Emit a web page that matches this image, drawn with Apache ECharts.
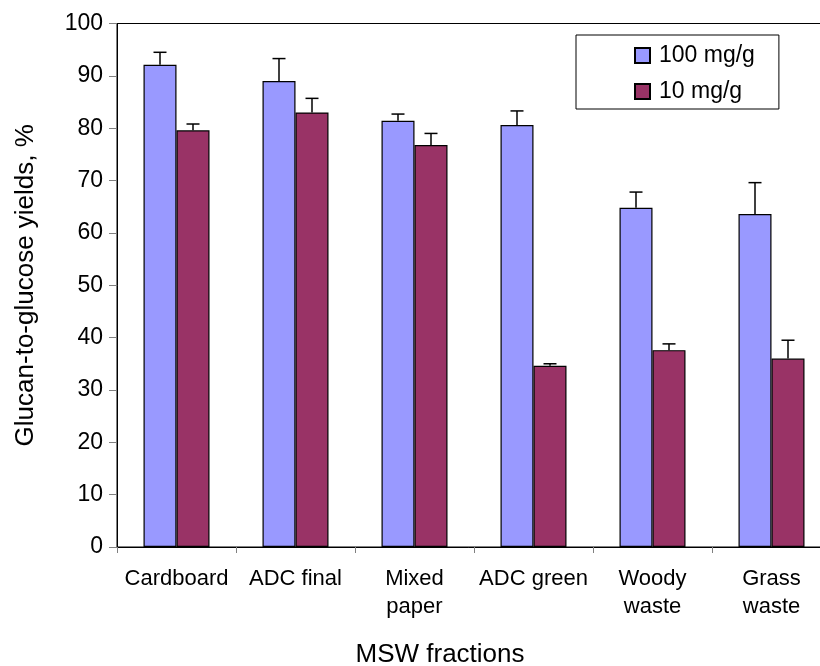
<!DOCTYPE html>
<html>
<head>
<meta charset="utf-8">
<script src="https://cdn.jsdelivr.net/npm/echarts@6/dist/echarts.min.js"></script>
<style>
  html, body { margin: 0; padding: 0; background: #fff; }
  #yieldChart { width: 820px; height: 666px; }
</style>
</head>
<body>
<div id="yieldChart"></div>
<script>
var fractions = ['Cardboard', 'ADC final', 'Mixed\npaper', 'ADC green', 'Woody\nwaste', 'Grass\nwaste'];
var yieldTicks = [0, 10, 20, 30, 40, 50, 60, 70, 80, 90, 100];
var dose100 = [92.1, 89.0, 81.4, 80.6, 64.8, 63.6];
var dose100Err = [94.5, 93.3, 82.7, 83.3, 67.8, 69.6];
var dose10 = [79.6, 83.0, 76.8, 34.6, 37.6, 36.0];
var dose10Err = [80.8, 85.7, 79.0, 35.0, 38.8, 39.5];

var barW = 33;

// error bar (only upward, with a cap)
var errorBars = function (tops, errs, shift) {
    var data = tops.map(function (v, i) { return [i, v, errs[i]]; });
    return {
        type: 'custom',
        z: 10,
        silent: true,
        data: data,
        encode: { x: 0, y: [1, 2] },
        renderItem: function (params, api) {
            var lo = api.coord([api.value(0), api.value(1)]);
            var hi = api.coord([api.value(0), api.value(2)]);
            var x = lo[0] + shift;
            var style = { stroke: '#000', lineWidth: 1.5 };
            return {
                type: 'group',
                children: [
                    { type: 'line', shape: { x1: x, y1: lo[1], x2: x, y2: hi[1] }, style: style },
                    { type: 'line', shape: { x1: x - 6.5, y1: hi[1], x2: x + 6.5, y2: hi[1] }, style: style }
                ]
            };
        }
    };
};

var yieldChart = echarts.init(document.getElementById('yieldChart'));
var option = {
    animation: false,
    textStyle: { fontFamily: 'Liberation Sans, Arial, sans-serif' },
    grid: {
        show: true,
        left: 117,
        top: 23.5,
        right: -11,
        bottom: 119,
        outerBoundsMode: 'none',
        containLabel: false,
        borderColor: '#000',
        borderWidth: 1
    },
    legend: {
        data: ['100 mg/g', '10 mg/g'],
        orient: 'vertical',
        left: 576,
        top: 35,
        backgroundColor: '#fff',
        borderColor: '#000',
        borderWidth: 1,
        padding: [9, 24, 6, 58],
        itemGap: 13,
        itemWidth: 15,
        itemHeight: 15,
        icon: 'rect',
        textStyle: { fontSize: 23, color: '#000', padding: [0, 0, 0, 4] }
    },
    xAxis: {
        type: 'category',
        data: fractions,
        name: 'MSW fractions',
        nameLocation: 'middle',
        nameGap: 95,
        nameTextStyle: { fontSize: 26, color: '#000', padding: [0, 68, 0, 0] },
        axisLine: { lineStyle: { color: '#000', width: 1 } },
        axisTick: { show: true, length: 6, lineStyle: { color: '#808080' } },
        axisLabel: { fontSize: 22, color: '#000', margin: 18, lineHeight: 28, interval: 0 }
    },
    yAxis: {
        type: 'value',
        min: yieldTicks[0],
        max: yieldTicks[yieldTicks.length - 1],
        interval: 10,
        name: 'Glucan-to-glucose yields, %',
        nameLocation: 'middle',
        nameGap: 78,
        nameTextStyle: { fontSize: 26, color: '#000' },
        axisLine: { show: true, lineStyle: { color: '#000', width: 1 } },
        axisTick: { show: true, length: 8, lineStyle: { color: '#808080' } },
        axisLabel: { fontSize: 23, color: '#000', margin: 14 },
        splitLine: { show: false }
    },
    series: [
        {
            name: '100 mg/g',
            type: 'bar',
            data: dose100,
            barWidth: barW,
            barGap: '0%',
            itemStyle: { color: '#9999FF', borderColor: '#000', borderWidth: 1.2 }
        },
        {
            name: '10 mg/g',
            type: 'bar',
            data: dose10,
            barWidth: barW,
            barGap: '0%',
            itemStyle: { color: '#993366', borderColor: '#000', borderWidth: 1.2 }
        },
        errorBars(dose100, dose100Err, -barW / 2),
        errorBars(dose10, dose10Err, barW / 2)
    ]
};
yieldChart.setOption(option);
</script>
</body>
</html>
